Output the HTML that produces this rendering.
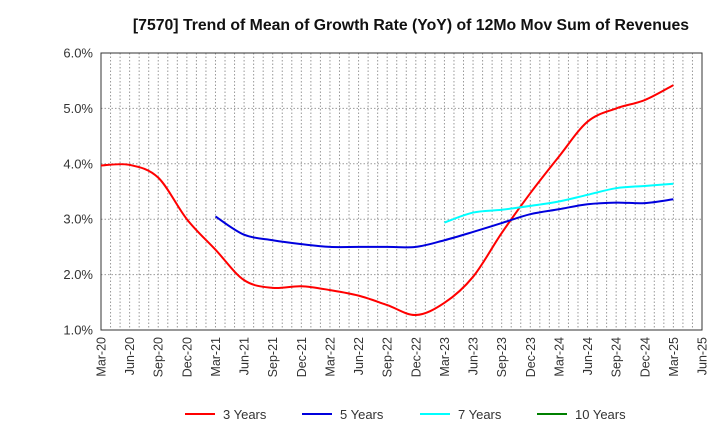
<!DOCTYPE html>
<html><head><meta charset="utf-8"><style>
body{margin:0;background:#fff;font-family:"Liberation Sans",Arial,sans-serif;}
svg text{font-family:"Liberation Sans",Arial,sans-serif;}
</style></head><body>
<svg id="c" width="720" height="440" xmlns="http://www.w3.org/2000/svg">
<text x="411" y="30" text-anchor="middle" font-size="15.8" font-weight="bold" fill="#111">[7570]  Trend of Mean of Growth Rate (YoY) of 12Mo Mov Sum of Revenues</text>
<g id="grid"></g><g id="axes"></g><g id="series"></g><g id="legend"></g>
</svg>
<script>
const xLabels=["Mar-20","Jun-20","Sep-20","Dec-20","Mar-21","Jun-21","Sep-21","Dec-21","Mar-22","Jun-22","Sep-22","Dec-22","Mar-23","Jun-23","Sep-23","Dec-23","Mar-24","Jun-24","Sep-24","Dec-24","Mar-25","Jun-25"];
const yTicks=[1,2,3,4,5,6];
const red3=[3.97,3.98,3.75,3.0,2.45,1.9,1.76,1.79,1.72,1.62,1.45,1.27,1.49,1.96,2.75,3.47,4.13,4.76,5.0,5.15,5.42];
const blue5=[null,null,null,null,3.05,2.72,2.62,2.55,2.5,2.5,2.5,2.5,2.62,2.77,2.93,3.09,3.18,3.27,3.3,3.29,3.36];
const cyan7=[null,null,null,null,null,null,null,null,null,null,null,null,2.94,3.12,3.17,3.24,3.32,3.44,3.56,3.6,3.64];
const green10=[];
const L=101,R=702,T=53,B=330,months=63;
const X=q=>L+(q*3)*(R-L)/months;
const Xm=m=>L+m*(R-L)/months;
const Y=v=>B-(v-1)*(B-T)/5;
const NS="http://www.w3.org/2000/svg";
function mk(p,t,a){const e=document.createElementNS(NS,t);for(const k in a)e.setAttribute(k,a[k]);p.appendChild(e);return e;}
const g=document.getElementById('grid'),ax=document.getElementById('axes'),s=document.getElementById('series'),lg=document.getElementById('legend');
for(let m=1;m<months;m++){const l=mk(g,'line',{x1:Xm(m),x2:Xm(m),y1:T,y2:B,stroke:'#999','stroke-dasharray':'1.5,2','stroke-width':1});

}
yTicks.forEach(v=>{if(v>1&&v<6){const l=mk(g,'line',{x1:L,x2:R,y1:Y(v),y2:Y(v),stroke:'#999','stroke-dasharray':'1.5,2'});

}
const t=mk(ax,'text',{x:93,y:Y(v)+4.5,'text-anchor':'end','font-size':13,fill:'#333'});t.textContent=v.toFixed(1)+'%';

});
const fr=mk(ax,'rect',{x:L,y:T,width:R-L,height:B-T,fill:'none',stroke:'#333','stroke-width':1});


xLabels.forEach((lb,i)=>{const x=X(i);const t=mk(ax,'text',{x:0,y:0,'text-anchor':'end','font-size':12.5,fill:'#333',transform:`translate(${x+4.5},${B+7}) rotate(-90)`});t.textContent=lb;

});
function path(arr){const pts=[];arr.forEach((v,i)=>{if(v!=null)pts.push([X(i),Y(v)]);});if(pts.length<2)return '';
let d=`M${pts[0][0]},${pts[0][1]}`;for(let i=0;i<pts.length-1;i++){const p0=pts[Math.max(0,i-1)],p1=pts[i],p2=pts[i+1],p3=pts[Math.min(pts.length-1,i+2)];
const c1=[p1[0]+(p2[0]-p0[0])/6,p1[1]+(p2[1]-p0[1])/6],c2=[p2[0]-(p3[0]-p1[0])/6,p2[1]-(p3[1]-p1[1])/6];
d+=` C${c1[0]},${c1[1]} ${c2[0]},${c2[1]} ${p2[0]},${p2[1]}`;}return d;}
[[red3,'#ff0000','series-3-years'],[blue5,'#0000dd','series-5-years'],[cyan7,'#00ffff','series-7-years'],[green10,'#008000','series-10-years']].forEach(([a,c,n])=>{const d=path(a);if(!d)return;
const p=mk(s,'path',{d:d,fill:'none',stroke:c,'stroke-width':2});

});
[['3 Years','#ff0000',185],['5 Years','#0000dd',302],['7 Years','#00ffff',420],['10 Years','#008000',537]].forEach(([t,c,x])=>{
const l=mk(lg,'line',{x1:x,x2:x+30,y1:414,y2:414,stroke:c,'stroke-width':2});


const tx=mk(lg,'text',{x:x+38,y:419,'font-size':13,fill:'#333'});tx.textContent=t;

});
</script>
</body></html>
